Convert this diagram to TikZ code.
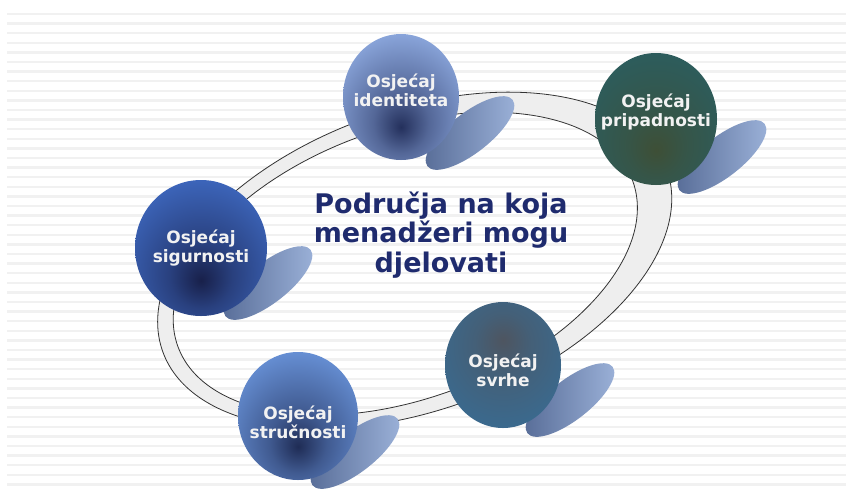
\documentclass[tikz,border=0pt]{standalone}
\usepackage{fontspec}
\setmainfont{DejaVu Sans}
\usetikzlibrary{shapes.geometric}
\definecolor{stripegray}{HTML}{F1F1F1}
\definecolor{ringgray}{HTML}{EEEEEE}
\definecolor{titlenavy}{HTML}{1F2B6E}
\definecolor{shadowdark}{HTML}{566B96}
\definecolor{shadowlight}{HTML}{9DB3DA}
\definecolor{identout}{HTML}{8EAAE0}
\definecolor{identin}{HTML}{24305C}
\definecolor{pripout}{HTML}{2C5D5E}
\definecolor{pripin}{HTML}{3E4F36}
\definecolor{sigout}{HTML}{3E68BF}
\definecolor{sigin}{HTML}{18204A}
\definecolor{strout}{HTML}{6993D9}
\definecolor{strin}{HTML}{1F2C55}
\definecolor{svrout}{HTML}{3A6A8F}
\definecolor{svrin}{HTML}{4E5560}
\colorlet{spotin}{black}
\colorlet{spotout}{white}
\pgfdeclareradialshading[spotin,spotout]{spotdown}{\pgfpoint{0bp}{-12bp}}{color(0bp)=(spotin); color(12bp)=(spotin!55!spotout); color(34bp)=(spotout); color(80bp)=(spotout)}
\pgfdeclareradialshading[spotin,spotout]{spotup}{\pgfpoint{0bp}{10bp}}{color(0bp)=(spotin); color(12bp)=(spotin!50!spotout); color(32bp)=(spotout); color(80bp)=(spotout)}
\tikzset{
	bubble/.style n args={3}{
		ellipse, inner sep=0pt,
		minimum width=118pt, minimum height=128pt,
		/utils/exec={\colorlet{spotin}{#1}\colorlet{spotout}{#2}},
		shade, shading=#3},
	bubbletext/.style={
		text=white!95!black, align=center,
		font=\fontsize{17}{19}\selectfont\bfseries},
	castshadow/.style={
		ellipse, inner sep=0pt,
		minimum width=108pt, minimum height=40pt,
		rotate=38, left color=shadowdark, right color=shadowlight},
	titletext/.style={
		text=titlenavy, align=center,
		font=\fontsize{27}{29.5}\selectfont\bfseries}
}
\begin{document}
\begin{tikzpicture}[x=1pt, y=-1pt]
	\useasboundingbox (0,0) rectangle (846,491);
	\fill[white] (0,0) rectangle (846,491);
	% background stripes
	\foreach \i in {0,...,49}
		\fill[stripegray] (7,{12.7+9.6*\i}) rectangle (846,{15.2+9.6*\i});
	% ring
	\path[fill=ringgray, draw=black!80, line width=0.8pt, even odd rule,
		rotate around={20:(410,262)}]
		(415,262) ellipse [x radius=268, y radius=150]
		(405,262) ellipse [x radius=242, y radius=135];
	% shadows
	\node[castshadow] (identshadow) at (470,133) {};
	\node[castshadow] (pripshadow) at (722,157) {};
	\node[castshadow] (sigshadow) at (268,283) {};
	\node[castshadow] (svrshadow) at (570,400) {};
	\node[castshadow] (strshadow) at (355,452) {};
	% circles
	\node[bubble={identin}{identout}{spotdown}, minimum width=116pt, minimum height=126pt]
		(identitet) at (401,97) {};
	\node[bubble={pripin}{pripout}{spotdown}, minimum width=122pt, minimum height=132pt]
		(pripadnost) at (656,119) {};
	\node[bubble={sigin}{sigout}{spotdown}, minimum width=132pt, minimum height=136pt]
		(sigurnost) at (201,248) {};
	\node[bubble={strin}{strout}{spotdown}, minimum width=120pt, minimum height=128pt]
		(strucnost) at (298,416) {};
	\node[bubble={svrin}{svrout}{spotup}, minimum width=116pt, minimum height=126pt]
		(svrha) at (503,365) {};
	\node[bubbletext] (identitettext) at ([yshift=7]identitet) {Osjećaj\\identiteta};
	\node[bubbletext] (pripadnosttext) at ([yshift=7]pripadnost) {Osjećaj\\pripadnosti};
	\node[bubbletext] (sigurnosttext) at (sigurnost) {Osjećaj\\sigurnosti};
	\node[bubbletext] (strucnosttext) at ([yshift=-6]strucnost) {Osjećaj\\stručnosti};
	\node[bubbletext] (svrhatext) at ([yshift=-5]svrha) {Osjećaj\\svrhe};
	% title
	\node[titletext] (podrucja) at (441,235) {Područja na koja\\menadžeri mogu\\djelovati};
\end{tikzpicture}
\end{document}
